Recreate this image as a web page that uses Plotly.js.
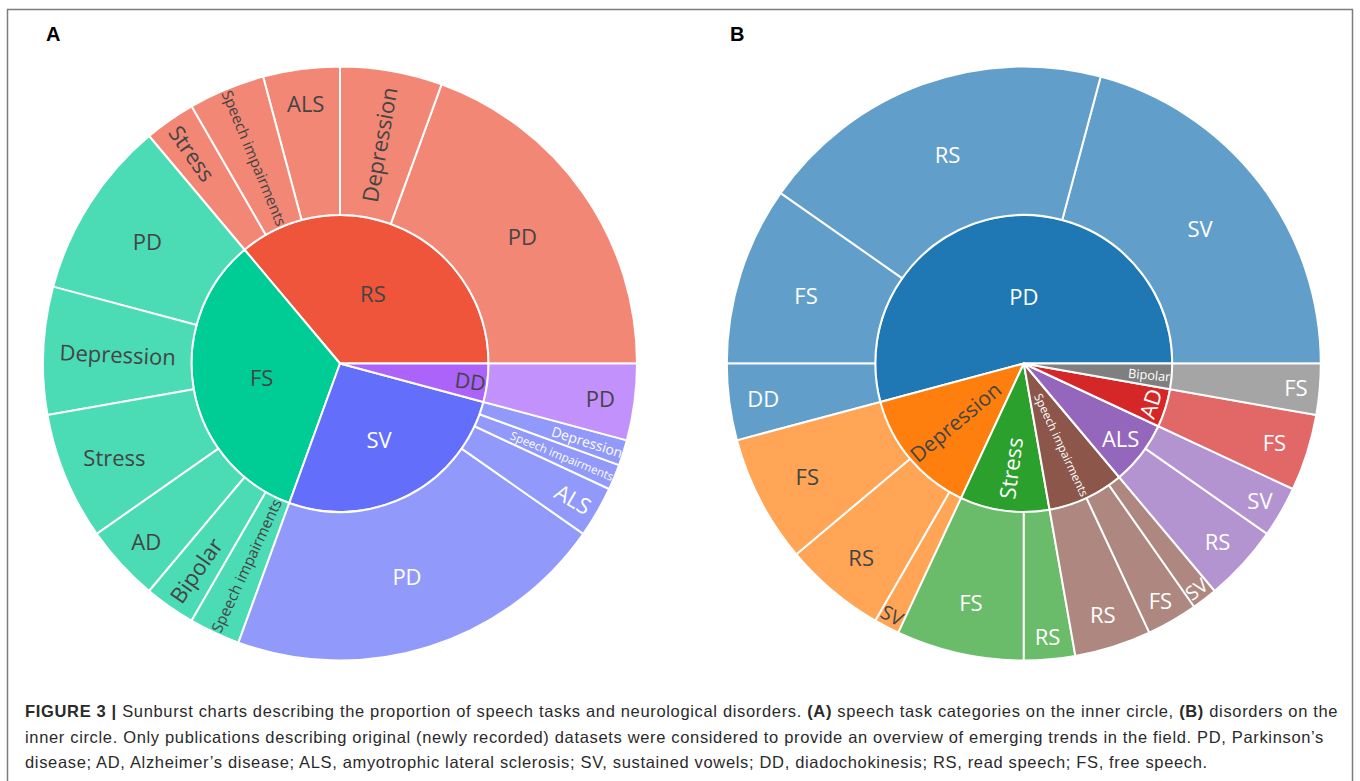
<!DOCTYPE html>
<html>
<head>
<meta charset="utf-8">
<script src="https://cdn.plot.ly/plotly-3.0.1.min.js"></script>
<style>
html,body{margin:0;padding:0;background:#ffffff;}
#chart{width:1360px;height:781px;}
</style>
</head>
<body>
<div id="chart"></div>
<script>
// ---- Data: number of datasets per (speech task, disorder) pair ----
const pairTask     = ['RS','RS','RS','RS','RS',
                      'FS','FS','FS','FS','FS','FS',
                      'SV','SV','SV','SV',
                      'DD'];
const pairDisorder = ['PD','Depression','ALS','Speech impairments','Stress',
                      'PD','Depression','Stress','AD','Bipolar','Speech impairments',
                      'PD','ALS','Speech impairments','Depression',
                      'PD'];
const pairCount    = [14,4,3,3,2,
                      7,5,5,3,2,2,
                      15,2,1,1,
                      3];

// inner categories and their colours
const taskOrder     = ['RS','FS','SV','DD'];
const taskColor     = ['#EF553B','#00CC96','#636EFA','#AB63FA'];
const disorderOrder = ['PD','Depression','Stress','Speech impairments','ALS','AD','Bipolar'];
const disorderColor = ['#1F77B4','#FF7F0E','#2CA02C','#8C564B','#9467BD','#D62728','#7F7F7F'];

const panelLabels = ['A','B'];
const captionLines = [
  '<b>FIGURE 3 |</b> Sunburst charts describing the proportion of speech tasks and neurological disorders. <b>(A)</b> speech task categories on the inner circle, <b>(B)</b> disorders on the',
  'inner circle. Only publications describing original (newly recorded) datasets were considered to provide an overview of emerging trends in the field. PD, Parkinson\u2019s',
  'disease; AD, Alzheimer\u2019s disease; ALS, amyotrophic lateral sclerosis; SV, sustained vowels; DD, diadochokinesis; RS, read speech; FS, free speech.'
];

function buildHierarchy(innerKeys, innerColors, innerOf, outerOf) {
  const ids = [], labels = [], parents = [], values = [], colors = [];
  innerKeys.forEach((k, i) => {
    let total = 0;
    const kids = [];
    pairCount.forEach((c, j) => { if (innerOf[j] === k) { total += c; kids.push(j); } });
    ids.push(k); labels.push(k); parents.push(''); values.push(total); colors.push(innerColors[i]);
    kids.forEach(j => {
      ids.push(k + '/' + outerOf[j]);
      labels.push(outerOf[j]);
      parents.push(k);
      values.push(pairCount[j]);
      colors.push(innerColors[i]);
    });
  });
  return {ids, labels, parents, values, colors};
}

const W = 1360, H = 781;
function px(x) { return x / W; }
function py(y) { return 1 - y / H; }

const sectorFont = {family: 'Open Sans, verdana, arial, sans-serif', size: 22};

function sunTrace(h, cx, cy, r, extra) {
  return Object.assign({
    type: 'sunburst',
    ids: h.ids, labels: h.labels, parents: h.parents, values: h.values,
    branchvalues: 'total',
    sort: true,
    rotation: 0,
    marker: {colors: h.colors, line: {color: '#ffffff', width: 2}},
    leaf: {opacity: 0.7},
    textinfo: 'label',
    insidetextorientation: 'auto',
    insidetextfont: sectorFont,
    hoverinfo: 'label+value',
    domain: {x: [px(cx - r), px(cx + r)], y: [py(cy + r), py(cy - r)]}
  }, extra || {});
}

const hA = buildHierarchy(taskOrder, taskColor, pairTask, pairDisorder);
const hB = buildHierarchy(disorderOrder, disorderColor, pairDisorder, pairTask);

// the PD sector of panel B spans more than half the circle: its label is drawn
// horizontally by an overlaid, transparent copy of the same hierarchy
const wideKey = disorderOrder[0];
const templB = hB.ids.map(id => id === wideKey ? ' ' : '%{label}');
const templB2 = hB.ids.map(id => id === wideKey ? '%{label}' : ' ');

const data = [
  sunTrace(hA, 340, 363.5, 297),
  sunTrace(hB, 1023.8, 363.5, 297, {texttemplate: templB}),
  sunTrace(hB, 1023.8, 363.5, 297, {
    texttemplate: templB2,
    insidetextorientation: 'horizontal',
    insidetextfont: Object.assign({color: '#ffffff'}, sectorFont),
    marker: {colors: hB.ids.map(() => 'rgba(0,0,0,0)'), line: {color: 'rgba(0,0,0,0)', width: 0}}
  })
];

const annotations = [
  {text: '<b>' + panelLabels[0] + '</b>', x: px(43.5), y: py(34), xanchor: 'left', yanchor: 'middle'},
  {text: '<b>' + panelLabels[1] + '</b>', x: px(727.5), y: py(34), xanchor: 'left', yanchor: 'middle'}
].map(a => Object.assign(a, {xref: 'paper', yref: 'paper', showarrow: false,
  font: {family: 'Liberation Sans, Arial, sans-serif', size: 20, color: '#000000'}}));

const captionY = [711, 736.5, 762];
captionLines.forEach((t, i) => {
  annotations.push({
    text: '<span style="letter-spacing:0.66px">' + t + '</span>',
    xref: 'paper', yref: 'paper', x: px(22.5), y: py(captionY[i]),
    xanchor: 'left', yanchor: 'middle', showarrow: false, align: 'left',
    font: {family: 'Liberation Sans, Arial, sans-serif', size: 16.5, color: '#2a2a2a'}
  });
});

const layout = {
  width: W, height: H,
  margin: {l: 0, r: 0, t: 0, b: 0},
  paper_bgcolor: '#ffffff',
  showlegend: false,
  font: {family: 'Open Sans, verdana, arial, sans-serif'},
  annotations: annotations,
  shapes: [{
    type: 'rect', xref: 'paper', yref: 'paper',
    x0: px(7.5), x1: px(1352.5), y0: -0.05, y1: py(9.5),
    line: {color: '#7d7d7d', width: 1.5}, fillcolor: 'rgba(0,0,0,0)'
  }]
};

Plotly.newPlot('chart', data, layout, {displayModeBar: false, staticPlot: true});
</script>
</body>
</html>
